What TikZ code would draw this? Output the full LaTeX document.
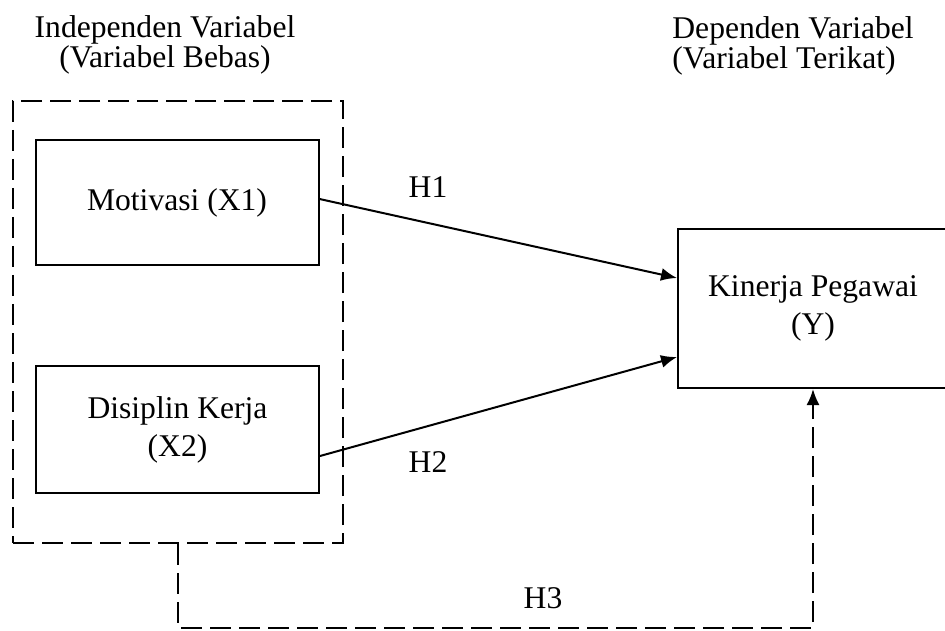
\documentclass[tikz,border=0pt]{standalone}
\usepackage{fontspec}
\setmainfont{Liberation Serif}
\usetikzlibrary{arrows.meta}
\begin{document}
\begin{tikzpicture}[x=0.5pt,y=-0.5pt,font=\fontsize{15.8}{19}\selectfont]
	% Gaya (MODIFIABLES)
	\tikzstyle{panah}=[-{Latex[length=8pt,width=6.5pt]},line width=1pt]
	\tikzstyle{kotak}=[draw,line width=1pt,align=center,inner sep=0pt]
	\tikzstyle{putus}=[line width=1pt,dash pattern=on 10.5pt off 4pt]
	\tikzstyle{judul}=[inner sep=0pt,font=\fontsize{15.8}{15}\selectfont]
	\tikzstyle{hipotesis}=[inner sep=0pt]
	% Dimensi (MODIFIABLES)
	\def\LebarX{141.5pt}
	\def\LebarY{135pt}
	% Bidang gambar
	\clip (0,0) rectangle (945,630);
	% Simpul
	\node[judul,align=center] (indep) at (165,45) {Independen Variabel\\(Variabel Bebas)};
	\node[judul,align=left,anchor=west] (dep) at (672,46) {Dependen Variabel\\(Variabel Terikat)};
	%
	\node[kotak,putus,minimum width=165pt,minimum height=221pt] (grup) at (178,322) {};
	\node[kotak,minimum width=\LebarX,minimum height=62.5pt] (mot) at (177,202.5) {Motivasi (X1)};
	\node[kotak,minimum width=\LebarX,minimum height=63.5pt] (dis) at (177.5,429.5) {Disiplin Kerja\\(X2)};
	\node[kotak,minimum width=\LebarY,minimum height=79.5pt] (kin) at (813,308.5) {Kinerja Pegawai\\(Y)};
	\coordinate (sudut) at (178,628);
	%
	\node[hipotesis] (h1) at (428,187) {H1};
	\node[hipotesis] (h2) at (428,462) {H2};
	\node[hipotesis] (h3) at (543,598) {H3};
	% Panah (MODIFIABLES : Gaya)
	\draw[panah] ([yshift=1.75pt]mot.east) -- ([yshift=15.25pt]kin.west);
	\draw[panah] ([yshift=-13.25pt]dis.east) -- ([yshift=-24.25pt]kin.west);
	\draw[putus,panah] (grup.south) -- (sudut) -| (kin.south);
\end{tikzpicture}
\end{document}
